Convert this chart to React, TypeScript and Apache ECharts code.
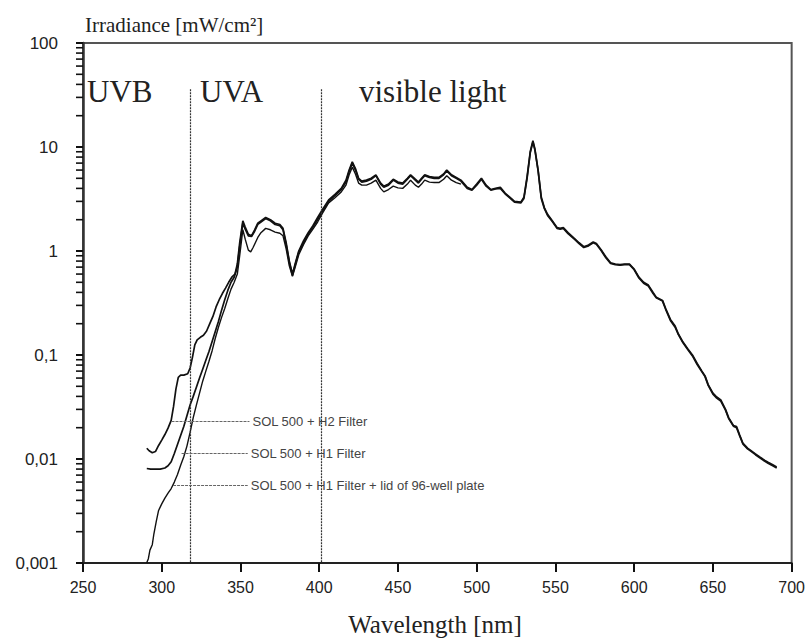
import React, { useEffect, useRef } from "react";
import * as echarts from "echarts";

// ---- Data ----
const xTicks = [250, 300, 350, 400, 450, 500, 550, 600, 650, 700];
const yTickLabels = ["0,001", "0,01", "0,1", "1", "10", "100"];

const wavelengthA = [290.5, 292, 294, 296, 298, 300, 302, 304, 306, 307.5, 309, 310.5, 312, 314, 316.5, 318, 319.5, 321, 322.5, 324.5, 326.5, 328.5, 330.5, 332.5, 334.5, 336.5, 338.5, 340.5, 342.5, 344.5, 346.5, 348, 349.5, 351.5, 353, 355, 357, 359, 361, 363, 366, 369, 372, 375, 377, 379, 381, 383, 385, 387, 390, 393, 396, 399, 402, 406, 410, 414, 417, 419, 421, 423, 425, 427, 430, 433, 436, 439, 441, 444, 447, 450, 453, 456, 458, 461, 463, 465, 467, 470, 473, 476, 479, 481, 484, 487, 490, 494, 497, 500, 503, 506, 509, 512, 515, 518, 521, 524, 528, 530, 532, 534, 535.7, 537, 539, 541, 543, 545, 548, 551, 553, 555, 558, 562, 565, 568, 571, 574, 576, 579, 582, 585, 588, 591, 594, 597, 600, 603, 606, 609, 612, 614, 618, 620, 623, 626, 628, 631, 634, 637, 640, 643, 645, 647, 650, 652, 655, 658, 660, 663, 665, 667, 669, 672, 674, 677, 680, 683, 685, 688, 690.5];
const irradianceA = [0.0127, 0.012, 0.0115, 0.0118, 0.0135, 0.0152, 0.0172, 0.0198, 0.0235, 0.032, 0.047, 0.061, 0.064, 0.064, 0.066, 0.075, 0.095, 0.125, 0.14, 0.148, 0.155, 0.17, 0.2, 0.235, 0.29, 0.34, 0.39, 0.44, 0.5, 0.56, 0.6, 0.75, 1.2, 1.95, 1.7, 1.45, 1.4, 1.6, 1.85, 1.95, 2.1, 2.0, 1.85, 1.8, 1.65, 1.2, 0.8, 0.6, 0.78, 1.0, 1.25, 1.5, 1.75, 2.1, 2.5, 3.1, 3.5, 4.0, 4.8, 6.0, 7.2, 6.2, 5.0, 4.7, 4.8, 5.0, 5.4, 4.5, 4.2, 4.4, 4.9, 4.6, 4.5, 5.0, 5.4, 4.9, 4.6, 5.0, 5.4, 5.2, 5.1, 5.1, 5.5, 6.0, 5.4, 5.1, 4.8, 4.1, 3.9, 4.4, 5.0, 4.3, 3.9, 4.0, 4.1, 3.6, 3.3, 3.0, 2.95, 3.3, 5.2, 9.0, 11.5, 9.5, 6.0, 3.3, 2.6, 2.25, 1.95, 1.68, 1.65, 1.68, 1.5, 1.32, 1.2, 1.1, 1.14, 1.22, 1.18, 1.03, 0.88, 0.77, 0.75, 0.74, 0.75, 0.75, 0.67, 0.56, 0.5, 0.47, 0.4, 0.36, 0.335, 0.28, 0.22, 0.19, 0.16, 0.133, 0.115, 0.1, 0.083, 0.07, 0.063, 0.052, 0.043, 0.04, 0.037, 0.03, 0.025, 0.021, 0.0205, 0.017, 0.0142, 0.0127, 0.0121, 0.0112, 0.0104, 0.0097, 0.0093, 0.0088, 0.0084];

const wavelengthB = [290.5, 293, 296, 299, 302, 304, 306, 308, 310, 312, 314, 316, 318, 320, 322, 324, 326, 328, 330, 332, 334, 336, 338, 340, 342, 344, 346, 348, 349.5, 351.5, 353, 355, 357, 359, 361, 363, 366, 369, 372, 375, 377, 379, 381, 383, 385, 387, 390, 393, 396, 399, 402, 406, 410, 414, 417, 419, 421, 423, 425, 427, 430, 433, 436, 439, 441, 444, 447, 450, 453, 456, 458, 461, 463, 465, 467, 470, 473, 476, 479, 481, 484, 487, 490, 494, 497, 500, 503, 506, 509, 512, 515, 518, 521, 524, 528, 530, 532, 534, 535.7, 537, 539, 541, 543, 545, 548, 551, 553, 555, 558, 562, 565, 568, 571, 574, 576, 579, 582, 585, 588, 591, 594, 597, 600, 603, 606, 609, 612, 614, 618, 620, 623, 626, 628, 631, 634, 637, 640, 643, 645, 647, 650, 652, 655, 658, 660, 663, 665, 667, 669, 672, 674, 677, 680, 683, 685, 688, 690.5];
const irradianceB = [0.0081, 0.008, 0.008, 0.008, 0.0082, 0.0086, 0.0094, 0.0113, 0.0138, 0.0168, 0.0205, 0.026, 0.033, 0.04, 0.049, 0.06, 0.073, 0.089, 0.108, 0.135, 0.168, 0.21, 0.27, 0.34, 0.42, 0.5, 0.56, 0.7, 1.1, 1.85, 1.62, 1.4, 1.38, 1.55, 1.8, 1.9, 2.05, 1.95, 1.8, 1.75, 1.6, 1.15, 0.78, 0.58, 0.76, 0.97, 1.2, 1.45, 1.7, 2.0, 2.4, 3.0, 3.4, 3.9, 4.6, 5.8, 7.0, 6.0, 4.9, 4.6, 4.7, 4.9, 5.3, 4.4, 4.1, 4.3, 4.8, 4.5, 4.4, 4.9, 5.3, 4.8, 4.5, 4.9, 5.3, 5.1, 5.0, 5.0, 5.4, 5.9, 5.3, 5.0, 4.7, 4.0, 3.85, 4.3, 4.9, 4.2, 3.85, 3.95, 4.0, 3.55, 3.25, 2.95, 2.9, 3.2, 5.0, 8.8, 11.2, 9.3, 5.9, 3.2, 2.55, 2.2, 1.92, 1.65, 1.62, 1.65, 1.47, 1.3, 1.18, 1.08, 1.12, 1.2, 1.16, 1.01, 0.86, 0.76, 0.74, 0.73, 0.74, 0.74, 0.66, 0.55, 0.49, 0.46, 0.39, 0.355, 0.33, 0.275, 0.215, 0.185, 0.158, 0.131, 0.113, 0.098, 0.081, 0.069, 0.062, 0.051, 0.042, 0.039, 0.036, 0.0295, 0.0245, 0.0207, 0.02, 0.0167, 0.014, 0.0125, 0.0119, 0.011, 0.0102, 0.0095, 0.0091, 0.0086, 0.0082];

const wavelengthC = [290.4, 291.5, 292.5, 294, 295, 296.5, 298, 300, 302, 304, 306, 308, 310, 312, 314, 316, 318, 320, 322, 324, 326, 328, 330, 332, 334, 336, 338, 340, 342, 344, 346, 348, 349.5, 351.5, 353, 355, 356.5, 358, 361, 363, 366, 369, 372, 375, 377, 379, 381, 383, 385, 387, 390, 393, 396, 399, 402, 406, 410, 414, 417, 419, 421, 423, 425, 427, 430, 433, 436, 439, 441, 444, 447, 450, 453, 456, 458, 461, 463, 465, 467, 470, 473, 476, 479, 481, 484, 487, 490];
const irradianceC = [0.001, 0.0011, 0.00133, 0.0015, 0.0019, 0.0025, 0.0032, 0.0037, 0.0042, 0.0047, 0.0052, 0.006, 0.0071, 0.0087, 0.0105, 0.0133, 0.018, 0.025, 0.033, 0.043, 0.056, 0.07, 0.087, 0.11, 0.145, 0.185, 0.23, 0.28, 0.35, 0.43, 0.5, 0.6, 0.9, 1.6, 1.3, 1.02, 0.98, 1.08, 1.35, 1.5, 1.65, 1.6, 1.52, 1.48, 1.4, 1.05, 0.72, 0.57, 0.72, 0.92, 1.15, 1.4, 1.62, 1.9, 2.3, 2.9, 3.25, 3.7, 4.3, 5.4, 6.4, 5.5, 4.5, 4.3, 4.3, 4.5, 4.8, 4.0, 3.7, 3.9, 4.2, 4.05, 4.0, 4.4, 4.8, 4.3, 4.1, 4.4, 4.8, 4.6, 4.55, 4.55, 4.9, 5.3, 4.8, 4.55, 4.4];

const seriesNames = [
  "SOL 500 + H2 Filter",
  "SOL 500 + H1 Filter",
  "SOL 500 + H1 Filter + lid of 96-well plate",
];
// leader lines: [start wavelength, end wavelength, irradiance level]
const leaderStart = [306.2, 312.6, 307.2];
const leaderEnd = [355.7, 354.6, 354.6];
const leaderLevel = [0.0229, 0.0114, 0.0056];

// band borders (nm) and the top of the dotted lines
const bandBorders = [318, 401];
const bandLineTop = 36;
const bandNames = ["UVB", "UVA", "visible light"];

// log tick positions on the y axis: decades and their 2..9 multiples
const logMantissas = [1, 2, 3, 4, 5, 6, 7, 8, 9];
const decadeExponents = [-3, -2, -1, 0, 1];

const pairs = (xs: number[], ys: number[]) => xs.map((x, i) => [x, ys[i]]);

export default function App() {
  const ref = useRef<HTMLDivElement>(null);
  useEffect(() => {
    if (!ref.current) return;
    const chart = echarts.init(ref.current, null, { renderer: "svg" });

    const yTickValues: number[] = [];
    decadeExponents.forEach((e) =>
      logMantissas.forEach((m) => yTickValues.push(Number((m * Math.pow(10, e)).toPrecision(2))))
    );
    yTickValues.push(100);

    const lineBase = {
      type: "line",
      showSymbol: false,
      symbol: "none",
      smooth: false,
      silent: true,
      lineStyle: { color: "#111", width: 1.7 },
    };

    const leaderMark = (i: number) => [
      {
        coord: [leaderStart[i], leaderLevel[i]],
        lineStyle: { color: "#666", width: 1, type: [3, 1] },
        label: {
          show: true,
          position: "end",
          formatter: seriesNames[i],
          color: "#444",
          fontSize: 13,
          fontFamily: "Liberation Sans",
          distance: 3,
        },
      },
      { coord: [leaderEnd[i], leaderLevel[i]] },
    ];

    const bandMark = (x: number) => [
      {
        coord: [x, bandLineTop],
        lineStyle: { color: "#333", width: 1.2, type: [2, 1] },
        label: { show: false },
      },
      { coord: [x, 0.001] },
    ];

    const serif = (size: number) => `${size}px "Liberation Serif", "Times New Roman", serif`;

    const option: any = {
      animation: false,
      backgroundColor: "#fff",
      grid: {
        left: 83,
        right: 13,
        top: 43,
        bottom: 75,
        show: true,
        borderColor: "#555",
        borderWidth: 2,
        backgroundColor: "transparent",
      },
      xAxis: [
        {
          type: "value",
          min: xTicks[0],
          max: xTicks[xTicks.length - 1],
          interval: 50,
          axisLine: { show: true, onZero: false, lineStyle: { color: "#222", width: 2 } },
          axisTick: { show: true, inside: false, length: 9, lineStyle: { color: "#111", width: 2 } },
          axisLabel: {
            margin: 16,
            fontSize: 16,
            color: "#222",
            fontFamily: "Liberation Sans",
            formatter: (v: number) => String(v),
          },
          splitLine: { show: false },
        },
      ],
      yAxis: [
        {
          type: "log",
          logBase: 10,
          min: 0.001,
          max: 100,
          axisLine: { show: true, onZero: false, lineStyle: { color: "#333", width: 2.5 } },
          axisTick: { show: true, inside: false, length: 7, lineStyle: { color: "#111", width: 2 } },
          axisLabel: {
            margin: 25,
            fontSize: 17,
            color: "#222",
            fontFamily: "Liberation Sans",
            formatter: (v: number) => yTickLabels[Math.round(Math.log10(v)) + 3] ?? "",
          },
          splitLine: { show: false },
        },
      ],
      series: [
        {
          ...lineBase,
          name: seriesNames[0],
          data: pairs(wavelengthA, irradianceA),
          markLine: {
            silent: true,
            symbol: "none",
            data: [leaderMark(0), ...bandBorders.map(bandMark)],
          },
        },
        {
          ...lineBase,
          name: seriesNames[1],
          data: pairs(wavelengthB, irradianceB),
          markLine: { silent: true, symbol: "none", data: [leaderMark(1)] },
        },
        {
          ...lineBase,
          name: seriesNames[2],
          data: pairs(wavelengthC, irradianceC),
          lineStyle: { color: "#111", width: 1.4 },
          markLine: { silent: true, symbol: "none", data: [leaderMark(2)] },
        },
        {
          // minor + major log ticks, drawn with the axis scale, just inside the axis
          type: "custom",
          silent: true,
          clip: false,
          z: 10,
          data: yTickValues.map((v) => [xTicks[0], v]),
          renderItem: (_params: any, api: any) => {
            const p = api.coord([api.value(0), api.value(1)]);
            return {
              type: "rect",
              shape: { x: p[0] - 7, y: p[1] - 0.8, width: 7, height: 1.6 },
              style: { fill: "#111" },
            };
          },
        },
      ],
      graphic: [
        {
          type: "text",
          x: 85,
          y: 25,
          style: { text: "Irradiance [mW/cm²]", font: serif(21), fill: "#222", align: "left", verticalAlign: "middle" },
        },
        {
          type: "text",
          x: 435,
          y: 624,
          style: { text: "Wavelength [nm]", font: serif(25), fill: "#222", align: "center", verticalAlign: "middle" },
        },
        {
          type: "text",
          x: 87,
          y: 91,
          style: { text: bandNames[0], font: serif(31), fill: "#222", align: "left", verticalAlign: "middle" },
        },
        {
          type: "text",
          x: 200,
          y: 91,
          style: { text: bandNames[1], font: serif(31), fill: "#222", align: "left", verticalAlign: "middle" },
        },
        {
          type: "text",
          x: 359,
          y: 91,
          style: { text: bandNames[2], font: serif(31), fill: "#222", align: "left", verticalAlign: "middle" },
        },
      ],
    };

    chart.setOption(option);
    return () => chart.dispose();
  }, []);

  return (
    <div
      ref={ref}
      style={{ position: "fixed", left: 0, top: 0, width: 808, height: 638, background: "#fff" }}
    />
  );
}
